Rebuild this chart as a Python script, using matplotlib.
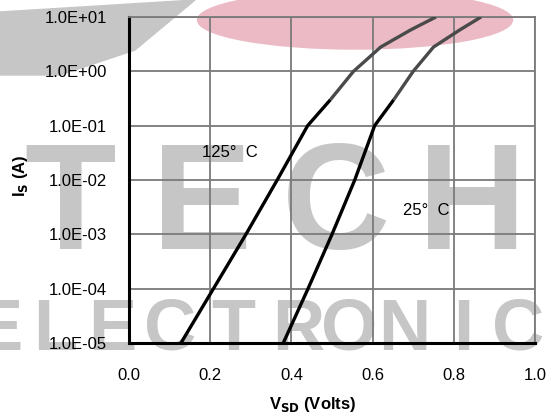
#!/usr/bin/env python3
# -*- coding: utf-8 -*-

"""Source-drain diode forward characteristic, log scale."""

# dependencies
import numpy as np
import matplotlib
matplotlib.use('Agg')
from matplotlib import pyplot as plt
from matplotlib.patches import Ellipse, Polygon

# data
current = [1e-5, 1e-4, 1e-3, 1e-2, 1e-1, 0.3, 1.0, 2.8, 5.8, 10.0]
v_125 = [0.128, 0.208, 0.288, 0.365, 0.44, 0.496, 0.553, 0.62, 0.694, 0.756]
v_25 = [0.38, 0.441, 0.50, 0.556, 0.605, 0.652, 0.70, 0.75, 0.815, 0.867]
x_ticks = [0.0, 0.2, 0.4, 0.6, 0.8, 1.0]
y_ticks = [1e-5, 1e-4, 1e-3, 1e-2, 1e-1, 1e0, 1e1]
y_labels = ['1.0E-05', '1.0E-04', '1.0E-03', '1.0E-02', '1.0E-01', '1.0E+00', '1.0E+01']

# watermark letters
top_word = ['T', 'E', 'C', 'H']
top_x = [70, 202, 336, 472]
low_word = ['E', 'L', 'E', 'C', 'T', 'R', 'O', 'N', 'I', 'C']
low_x = [-2, 55, 112, 170, 233, 298, 349, 404, 463, 518]

plt.rcParams['font.family'] = ['Liberation Sans', 'DejaVu Sans']

W, H = 553, 417
fig = plt.figure(figsize=(W / 100, H / 100), dpi=100)

# watermark behind the axes
wm = '#c6c6c6'
for ch, x in zip(top_word, top_x):
    fig.text(x / W, 1 - 210 / H, ch, fontsize=108, fontweight='bold', color=wm,
             ha='center', va='center', zorder=-2)
for ch, x in zip(low_word, low_x):
    fig.text(x / W, 1 - 331 / H, ch, fontsize=52, fontweight='bold', color=wm,
             ha='center', va='center', zorder=-2)
fig.patches.append(Ellipse((355 / W, 1 - 20 / H), 315 / W, 58 / H, color='#ebbac4',
                           transform=fig.transFigure, zorder=-2))
fig.patches.append(Polygon([(0, 1 - 12 / H), (195 / W, 1), (135 / W, 1 - 50 / H),
                            (60 / W, 1 - 75 / H), (0, 1 - 75 / H)], closed=True,
                           color=wm, transform=fig.transFigure, zorder=-2))

ax = fig.add_axes([129 / W, 1 - 343 / H, 406 / W, 326 / H])
ax.set_facecolor('none')

# curves: black lower part, dark gray upper part
k = 5
for v in (v_125, v_25):
    ax.plot(v[:k + 1], current[:k + 1], color='black', lw=2.4, solid_capstyle='butt', zorder=3)
    ax.plot(v[k:], current[k:], color='#4a4a4a', lw=2.4, solid_capstyle='butt', zorder=3)

ax.set_yscale('log')
ax.set_xlim(0, 1.0)
ax.set_ylim(1e-5, 1e1)
ax.set_xticks(x_ticks)
ax.set_xticklabels(['%.1f' % t for t in x_ticks])
ax.set_yticks(y_ticks)
ax.set_yticklabels(y_labels)
ax.minorticks_off()
ax.tick_params(axis='both', length=0, labelsize=12)
ax.tick_params(axis='y', pad=16)
ax.tick_params(axis='x', pad=18)

ax.grid(True, color='#7a7a7a', lw=1.3)
ax.set_axisbelow(True)
for s in ('top', 'right'):
    ax.spines[s].set_color('#7a7a7a')
    ax.spines[s].set_linewidth(1.3)
for s in ('left', 'bottom'):
    ax.spines[s].set_color('black')
    ax.spines[s].set_linewidth(2.2)

# labels
ax.text(0.249, 0.0327, '125°  C', fontsize=12, ha='center', va='center')
ax.text(0.731, 0.0028, '25°  C', fontsize=12, ha='center', va='center')
fig.text(313 / W, 1 - 405 / H, r'V$_{\mathbf{SD}}$ (Volts)', fontsize=12,
         fontweight='bold', ha='center', va='center')
fig.text(21 / W, 1 - 176 / H, r'I$_{\mathbf{S}}$ (A)', fontsize=12,
         fontweight='bold', ha='center', va='center', rotation=90)

plt.savefig('out.png', dpi=100)
